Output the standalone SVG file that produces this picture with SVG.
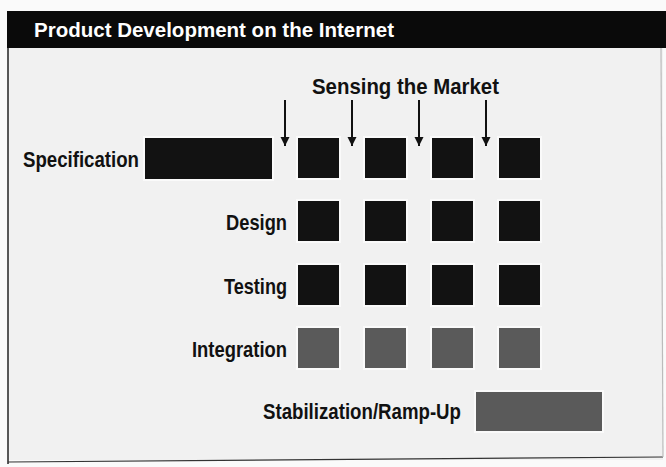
<svg xmlns="http://www.w3.org/2000/svg" width="666" height="467" viewBox="0 0 666 467">
<defs>
<marker id="ah" viewBox="0 0 10 10" refX="10" refY="5" markerWidth="9" markerHeight="10" markerUnits="userSpaceOnUse" orient="auto">
<path d="M0,0 L10,5 L0,10 Z" fill="#111"/>
</marker>
</defs>
<style>
.lbl{font-family:"Liberation Sans",Arial,sans-serif;font-weight:bold;font-size:22px;fill:#111}
.title{font-family:"Liberation Sans",Arial,sans-serif;font-weight:bold;font-size:21px;fill:#fff}
.blk{fill:#121212;stroke:#fafafa;stroke-width:2}
.gry{fill:#5a5a5a;stroke:#fafafa;stroke-width:2}
.arr{stroke:#111;stroke-width:2;fill:none;marker-end:url(#ah)}
</style>
<rect x="0" y="0" width="666" height="467" fill="#fafafa"/>
<rect x="8" y="48" width="655" height="412" fill="#f1f1f1"/>
<line x1="8" y1="48" x2="8" y2="464" stroke="#222" stroke-width="1.5"/>
<line x1="8" y1="462" x2="663" y2="457" stroke="#333" stroke-width="1.2"/>
<line x1="661" y1="48" x2="663" y2="457" stroke="#bbb" stroke-width="1.2"/>
<g id="title">
<rect x="7" y="11" width="659" height="37" fill="#0a0a0a"/>
<text class="title" x="34" y="37" textLength="360" lengthAdjust="spacingAndGlyphs">Product Development on the Internet</text>
</g>
<g id="sensing">
<text class="lbl" x="312" y="94" textLength="187" lengthAdjust="spacingAndGlyphs">Sensing the Market</text>
</g>
<g id="connectors">
<line class="arr" x1="285" y1="100" x2="285" y2="146"/>
<line class="arr" x1="352" y1="100" x2="352" y2="146"/>
<line class="arr" x1="419" y1="100" x2="419" y2="146"/>
<line class="arr" x1="486" y1="100" x2="486" y2="146"/>
</g>
<g id="specification">
<text class="lbl" x="23" y="167" textLength="116" lengthAdjust="spacingAndGlyphs">Specification</text>
<rect class="blk" x="144" y="137" width="129" height="43"/>
<rect class="blk" x="297" y="137" width="43" height="42"/>
<rect class="blk" x="364" y="137" width="43" height="42"/>
<rect class="blk" x="431" y="137" width="43" height="42"/>
<rect class="blk" x="498" y="137" width="43" height="42"/>
</g>
<g id="design">
<text class="lbl" x="287" y="230" text-anchor="end" textLength="61" lengthAdjust="spacingAndGlyphs">Design</text>
<rect class="blk" x="297" y="200" width="43" height="42"/>
<rect class="blk" x="364" y="200" width="43" height="42"/>
<rect class="blk" x="431" y="200" width="43" height="42"/>
<rect class="blk" x="498" y="200" width="43" height="42"/>
</g>
<g id="testing">
<text class="lbl" x="287" y="294" text-anchor="end" textLength="63" lengthAdjust="spacingAndGlyphs">Testing</text>
<rect class="blk" x="297" y="264" width="43" height="42"/>
<rect class="blk" x="364" y="264" width="43" height="42"/>
<rect class="blk" x="431" y="264" width="43" height="42"/>
<rect class="blk" x="498" y="264" width="43" height="42"/>
</g>
<g id="integration">
<text class="lbl" x="287" y="357" text-anchor="end" textLength="95" lengthAdjust="spacingAndGlyphs">Integration</text>
<rect class="gry" x="297" y="327" width="43" height="42"/>
<rect class="gry" x="364" y="327" width="43" height="42"/>
<rect class="gry" x="431" y="327" width="43" height="42"/>
<rect class="gry" x="498" y="327" width="43" height="42"/>
</g>
<g id="stabilization">
<text class="lbl" x="263" y="419" textLength="198" lengthAdjust="spacingAndGlyphs">Stabilization/Ramp-Up</text>
<rect class="gry" x="475" y="391" width="128" height="41"/>
</g>
</svg>
